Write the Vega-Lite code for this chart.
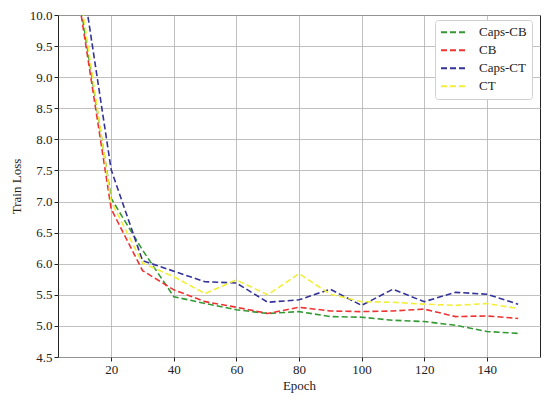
{
  "$schema": "https://vega.github.io/schema/vega-lite/v6.json",
  "autosize": "none",
  "padding": {"left": 58, "top": 15, "right": 10, "bottom": 41},
  "width": 482,
  "height": 342,
  "config": {
    "font": "Liberation Serif",
    "view": {"stroke": "#222222", "strokeWidth": 1},
    "axis": {
      "labelFont": "Liberation Serif",
      "titleFont": "Liberation Serif",
      "labelFontSize": 13,
      "titleFontSize": 13,
      "titleFontWeight": "normal",
      "labelColor": "#222222",
      "titleColor": "#222222",
      "gridColor": "#b0b0b0",
      "gridWidth": 1,
      "gridOpacity": 0.8,
      "tickColor": "#222222",
      "tickSize": 4,
      "domain": false
    }
  },
  "data": {
    "values": [
      {"epoch": 10, "loss": 10.22, "model": "Caps-CB"},
      {"epoch": 20, "loss": 7.05, "model": "Caps-CB"},
      {"epoch": 30, "loss": 6.22, "model": "Caps-CB"},
      {"epoch": 40, "loss": 5.47, "model": "Caps-CB"},
      {"epoch": 50, "loss": 5.36, "model": "Caps-CB"},
      {"epoch": 60, "loss": 5.26, "model": "Caps-CB"},
      {"epoch": 70, "loss": 5.2, "model": "Caps-CB"},
      {"epoch": 80, "loss": 5.23, "model": "Caps-CB"},
      {"epoch": 90, "loss": 5.15, "model": "Caps-CB"},
      {"epoch": 100, "loss": 5.14, "model": "Caps-CB"},
      {"epoch": 110, "loss": 5.09, "model": "Caps-CB"},
      {"epoch": 120, "loss": 5.07, "model": "Caps-CB"},
      {"epoch": 130, "loss": 5.01, "model": "Caps-CB"},
      {"epoch": 140, "loss": 4.91, "model": "Caps-CB"},
      {"epoch": 150, "loss": 4.88, "model": "Caps-CB"},
      {"epoch": 10, "loss": 10.13, "model": "CB"},
      {"epoch": 20, "loss": 6.88, "model": "CB"},
      {"epoch": 30, "loss": 5.89, "model": "CB"},
      {"epoch": 40, "loss": 5.58, "model": "CB"},
      {"epoch": 50, "loss": 5.39, "model": "CB"},
      {"epoch": 60, "loss": 5.3, "model": "CB"},
      {"epoch": 70, "loss": 5.2, "model": "CB"},
      {"epoch": 80, "loss": 5.3, "model": "CB"},
      {"epoch": 90, "loss": 5.24, "model": "CB"},
      {"epoch": 100, "loss": 5.23, "model": "CB"},
      {"epoch": 110, "loss": 5.24, "model": "CB"},
      {"epoch": 120, "loss": 5.27, "model": "CB"},
      {"epoch": 130, "loss": 5.15, "model": "CB"},
      {"epoch": 140, "loss": 5.16, "model": "CB"},
      {"epoch": 150, "loss": 5.12, "model": "CB"},
      {"epoch": 10, "loss": 10.83, "model": "Caps-CT"},
      {"epoch": 20, "loss": 7.51, "model": "Caps-CT"},
      {"epoch": 30, "loss": 6.05, "model": "Caps-CT"},
      {"epoch": 40, "loss": 5.88, "model": "Caps-CT"},
      {"epoch": 50, "loss": 5.71, "model": "Caps-CT"},
      {"epoch": 60, "loss": 5.69, "model": "Caps-CT"},
      {"epoch": 70, "loss": 5.38, "model": "Caps-CT"},
      {"epoch": 80, "loss": 5.42, "model": "Caps-CT"},
      {"epoch": 90, "loss": 5.59, "model": "Caps-CT"},
      {"epoch": 100, "loss": 5.33, "model": "Caps-CT"},
      {"epoch": 110, "loss": 5.59, "model": "Caps-CT"},
      {"epoch": 120, "loss": 5.39, "model": "Caps-CT"},
      {"epoch": 130, "loss": 5.54, "model": "Caps-CT"},
      {"epoch": 140, "loss": 5.51, "model": "Caps-CT"},
      {"epoch": 150, "loss": 5.35, "model": "Caps-CT"},
      {"epoch": 10, "loss": 10.37, "model": "CT"},
      {"epoch": 20, "loss": 7.0, "model": "CT"},
      {"epoch": 30, "loss": 6.01, "model": "CT"},
      {"epoch": 40, "loss": 5.79, "model": "CT"},
      {"epoch": 50, "loss": 5.52, "model": "CT"},
      {"epoch": 60, "loss": 5.74, "model": "CT"},
      {"epoch": 70, "loss": 5.5, "model": "CT"},
      {"epoch": 80, "loss": 5.84, "model": "CT"},
      {"epoch": 90, "loss": 5.51, "model": "CT"},
      {"epoch": 100, "loss": 5.39, "model": "CT"},
      {"epoch": 110, "loss": 5.38, "model": "CT"},
      {"epoch": 120, "loss": 5.35, "model": "CT"},
      {"epoch": 130, "loss": 5.33, "model": "CT"},
      {"epoch": 140, "loss": 5.36, "model": "CT"},
      {"epoch": 150, "loss": 5.28, "model": "CT"}
    ]
  },
  "mark": {"type": "line", "clip": true, "strokeWidth": 1.6, "strokeDash": [6, 3]},
  "encoding": {
    "x": {
      "field": "epoch",
      "type": "quantitative",
      "title": "Epoch",
      "scale": {"domain": [3, 157], "nice": false, "zero": false},
      "axis": {"values": [20, 40, 60, 80, 100, 120, 140], "titlePadding": 3}
    },
    "y": {
      "field": "loss",
      "type": "quantitative",
      "title": "Train Loss",
      "scale": {"domain": [4.5, 10], "nice": false, "zero": false},
      "axis": {"values": [4.5, 5, 5.5, 6, 6.5, 7, 7.5, 8, 8.5, 9, 9.5, 10], "format": ".1f", "titlePadding": 6}
    },
    "color": {
      "field": "model",
      "type": "nominal",
      "scale": {
        "domain": ["Caps-CB", "CB", "Caps-CT", "CT"],
        "range": ["#339933", "#ee3333", "#33339a", "#f2ee3a"]
      },
      "legend": {
        "title": null,
        "orient": "none",
        "legendX": 377,
        "legendY": 5,
        "symbolType": "stroke",
        "symbolSize": 729,
        "symbolStrokeWidth": 1.8,
        "symbolDash": [6, 3],
        "clipHeight": 14.5,
        "labelOffset": 10,
        "labelFontSize": 13,
        "labelFont": "Liberation Serif",
        "labelColor": "#222222",
        "rowPadding": 3,
        "padding": 5,
        "fillColor": "white",
        "strokeColor": "#d0d0d0",
        "cornerRadius": 3
      }
    }
  }
}
